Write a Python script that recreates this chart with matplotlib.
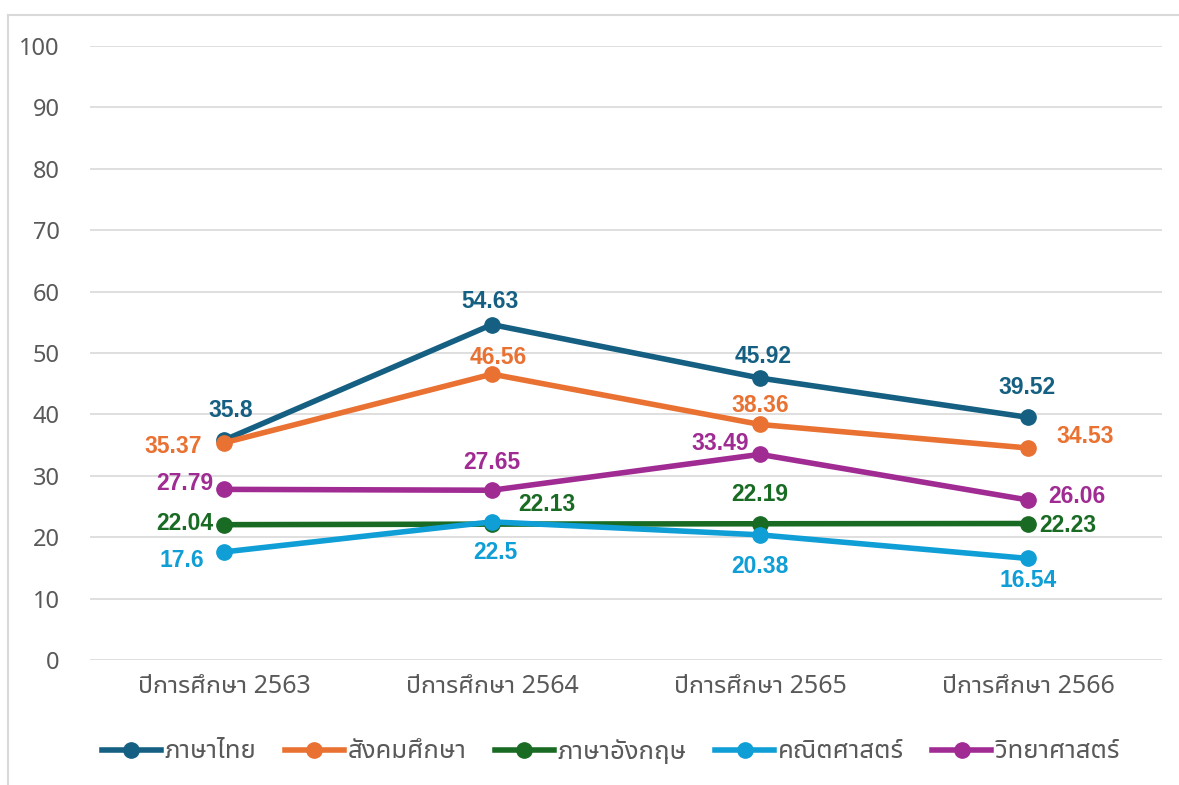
import matplotlib
matplotlib.use("Agg")
import matplotlib.pyplot as plt
from matplotlib.lines import Line2D

# data
years = ["ปีการศึกษา 2563", "ปีการศึกษา 2564", "ปีการศึกษา 2565", "ปีการศึกษา 2566"]
subjects = ["ภาษาไทย", "สังคมศึกษา", "ภาษาอังกฤษ", "คณิตศาสตร์", "วิทยาศาสตร์"]
thai = [35.8, 54.63, 45.92, 39.52]
social = [35.37, 46.56, 38.36, 34.53]
english = [22.04, 22.13, 22.19, 22.23]
math = [17.6, 22.5, 20.38, 16.54]
science = [27.79, 27.65, 33.49, 26.06]
colors = ["#156082", "#E97132", "#196B24", "#0F9ED5", "#A02B93"]

# label offsets in pixels (dx, dy with y going down), one per point
label_offsets = [
    [(7, -30), (-2, -23), (3, -22), (-1, -30)],
    [(-51, 4), (6, -17), (0, -19), (57, -11)],
    [(-39, -1), (55, -20), (0, -29), (40, 2)],
    [(-42, 9), (3, 31), (0, 32), (0, 22)],
    [(-39, -6), (0, -28), (-40, -11), (49, -3)],
]

thai_font = ["Noto Sans Thai UI", "Noto Sans"]
grey_text = "#595959"

fig = plt.figure(figsize=(11.79, 7.85), dpi=100)
ax = fig.add_axes([90 / 1179, 1 - 660 / 785, (1162 - 90) / 1179, (660 - 46) / 785])

series = [thai, social, english, math, science]
x = list(range(len(years)))
for vals, col in zip(series, colors):
    ax.plot(x, vals, color=col, lw=4, marker="o", ms=11, solid_capstyle="round", zorder=3)

for vals, col, offs in zip(series, colors, label_offsets):
    for i, v in enumerate(vals):
        dx, dy = offs[i]
        ax.annotate(f"{v:g}", (i, v), xytext=(dx, -dy), textcoords="offset pixels",
                    ha="center", va="center", color=col, fontsize=16.5,
                    fontweight="bold", family="Liberation Sans", zorder=5)

# leader lines for the two labels pushed aside
leader = "#A6A6A6"
for i, v, pts in [(1, english[1], [(2, -7), (2, -21), (15, -21)]),
                  (3, social[3], [(2, -6), (6, -14), (19, -14)])]:
    px, py = ax.transData.transform((i, v))
    xs = [(px + dx) / 1179 for dx, dy in pts]
    ys = [(py - dy) / 785 for dx, dy in pts]
    fig.add_artist(Line2D(xs, ys, color=leader, lw=1, zorder=6))

ax.set_xlim(-0.5, 3.5)
ax.set_ylim(0, 100)
ax.set_yticks(range(0, 101, 10))
ax.set_xticks(x)
ax.set_xticklabels(years, family=thai_font, fontsize=18, color=grey_text)
for lab in ax.get_yticklabels():
    lab.set_family("Noto Sans")
    lab.set_fontsize(17)
    lab.set_color(grey_text)
ax.tick_params(length=0)
ax.tick_params(axis="y", pad=22)
ax.tick_params(axis="x", pad=10)
ax.grid(axis="y", color="#D9D9D9", lw=1.2)
ax.set_axisbelow(True)
for s in ax.spines.values():
    s.set_visible(False)

handles = [Line2D([], [], color=c, lw=4, marker="o", ms=11) for c in colors]
leg = fig.legend(handles, subjects, loc="center", bbox_to_anchor=(0.518, 1 - 752 / 785),
                 ncol=5, frameon=False, handlelength=2.3, handletextpad=0.15,
                 columnspacing=1.1, prop={"family": thai_font, "size": 18.5})
for t in leg.get_texts():
    t.set_color(grey_text)

# chart border (left and top edges visible in the crop)
fig.add_artist(Line2D([8 / 1179, 8 / 1179], [0, 1 - 15 / 785], color="#D9D9D9", lw=1.5))
fig.add_artist(Line2D([8 / 1179, 1], [1 - 15 / 785, 1 - 15 / 785], color="#D9D9D9", lw=1.5))

fig.savefig("out.png", dpi=100)
